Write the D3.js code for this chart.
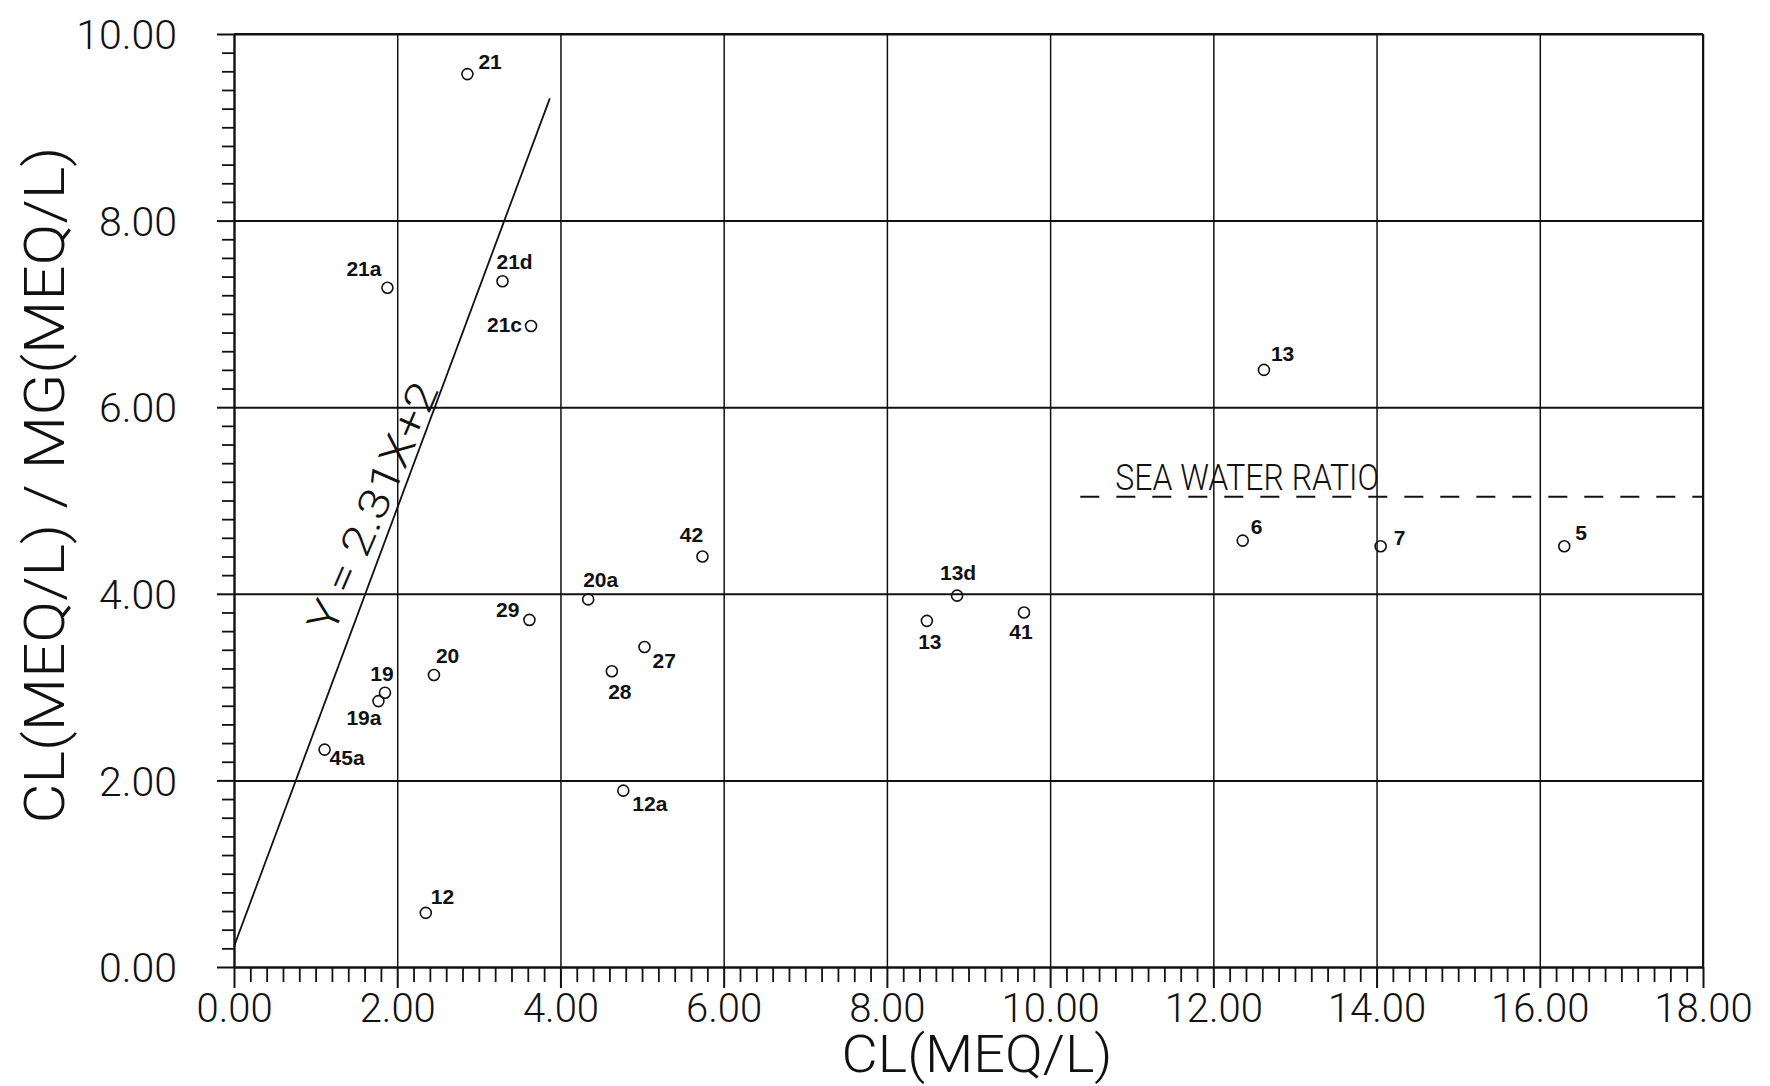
<!DOCTYPE html>
<html>
<head>
<meta charset="utf-8">
<script src="https://cdn.jsdelivr.net/npm/d3@7/dist/d3.min.js"></script>
<style>
  html, body { margin: 0; padding: 0; background: #fff; }
  svg { display: block; }
</style>
</head>
<body>
<svg id="chart" width="1770" height="1086"></svg>
<script>
// ---------- DATA ----------
const sampleIds = ["21", "21a", "21d", "21c", "13", "6", "7", "5", "42", "20a", "13d", "41", "13", "29", "27", "28", "20", "19", "19a", "45a", "12a", "12"];
const clValues  = [2.86, 1.88, 3.29, 3.64, 12.62, 12.36, 14.05, 16.30, 5.74, 4.34, 8.86, 9.68, 8.49, 3.62, 5.03, 4.63, 2.45, 1.85, 1.77, 1.11, 4.77, 2.35];
const ratioValues = [9.57, 7.28, 7.35, 6.87, 6.40, 4.57, 4.51, 4.51, 4.40, 3.94, 3.98, 3.80, 3.71, 3.72, 3.43, 3.17, 3.13, 2.94, 2.85, 2.33, 1.89, 0.58];

const fitLineX = [0.00, 3.87];
const fitLineY = [0.22, 9.31];
const fitLabel = "Y = 2.31X+2";
const fitLabelAnchor = [1.70, 4.93];

const seaWaterX = [10.37, 18.00];
const seaWaterY = [5.04, 5.04];
const seaWaterLabel = "SEA WATER RATIO";

const xMajorTicks = [0, 2, 4, 6, 8, 10, 12, 14, 16, 18];
const yMajorTicks = [0, 2, 4, 6, 8, 10];
const xTitle = "CL(MEQ/L)";
const yTitle = "CL(MEQ/L)  /  MG(MEQ/L)";

// label placement (pixel offsets from the circle, text anchor)
const labelPlacement = [
  [11, -5, "start"], [-6, -12, "end"], [-6, -12, "start"], [-9, 6, "end"],
  [7, -9, "start"], [8, -7, "start"], [13, -1, "start"], [11, -6, "start"],
  [-11, -14, "middle"], [-5, -12, "start"], [1, -16, "middle"], [-3, 27, "middle"],
  [3, 28, "middle"], [-10, -3, "end"], [8, 21, "start"], [8, 28, "middle"],
  [2, -12, "start"], [-3, -12, "middle"], [3, 24, "end"], [5, 15, "start"],
  [9, 20, "start"], [5, -9, "start"]
];

// ---------- LAYOUT ----------
const svg = d3.select("#chart");
svg.append("rect").attr("width", 1770).attr("height", 1086).attr("fill", "#fff");

const mLeft = 234, mRight = 1703, mTop = 34, mBottom = 967;
const x = d3.scaleLinear().domain([0, 18]).range([mLeft, mRight]);
const y = d3.scaleLinear().domain([0, 10]).range([mBottom, mTop]);

const thinFont = "Roboto, 'DejaVu Sans', sans-serif";
const ink = "#111";

const xMinor = d3.range(0, 18.001, 0.2).map(v => +v.toFixed(1)).filter(v => Math.abs(v / 2 - Math.round(v / 2)) > 1e-6);
const yMinor = d3.range(0, 10.001, 0.2).map(v => +v.toFixed(1)).filter(v => Math.abs(v / 2 - Math.round(v / 2)) > 1e-6);

// vertical gridlines
const gx = svg.append("g").attr("transform", `translate(0,${mBottom})`)
  .call(d3.axisBottom(x).tickValues(xMajorTicks.slice(1)).tickSize(-(mBottom - mTop)).tickFormat(""));
gx.select(".domain").remove();
gx.selectAll("line").attr("stroke", ink).attr("stroke-width", 1.5);

// horizontal gridlines
const gy = svg.append("g").attr("transform", `translate(${mLeft},0)`)
  .call(d3.axisLeft(y).tickValues(yMajorTicks.slice(1)).tickSize(-(mRight - mLeft)).tickFormat(""));
gy.select(".domain").remove();
gy.selectAll("line").attr("stroke", ink).attr("stroke-width", 2);

// minor ticks
const mx = svg.append("g").attr("transform", `translate(0,${mBottom})`)
  .call(d3.axisBottom(x).tickValues(xMinor).tickSize(15).tickFormat(""));
mx.select(".domain").remove();
mx.selectAll("line").attr("stroke", ink).attr("stroke-width", 1.8);

const my = svg.append("g").attr("transform", `translate(${mLeft},0)`)
  .call(d3.axisLeft(y).tickValues(yMinor).tickSize(12).tickFormat(""));
my.select(".domain").remove();
my.selectAll("line").attr("stroke", ink).attr("stroke-width", 1.8);

// major ticks + labels
const ax = svg.append("g").attr("transform", `translate(0,${mBottom})`)
  .call(d3.axisBottom(x).tickValues(xMajorTicks).tickSizeInner(21).tickSizeOuter(0).tickPadding(10).tickFormat(d3.format(".2f")));
ax.select(".domain").attr("stroke", ink).attr("stroke-width", 2.4);
ax.selectAll("line").attr("stroke", ink).attr("stroke-width", 2);
ax.selectAll("text").attr("font-family", thinFont).attr("font-weight", 300)
  .attr("font-size", 40).attr("fill", ink).attr("dy", "0.71em").attr("y", 27);

const ay = svg.append("g").attr("transform", `translate(${mLeft},0)`)
  .call(d3.axisLeft(y).tickValues(yMajorTicks).tickSizeInner(17).tickSizeOuter(0).tickPadding(10).tickFormat(d3.format(".2f")));
ay.select(".domain").attr("stroke", ink).attr("stroke-width", 2.4);
ay.selectAll("line").attr("stroke", ink).attr("stroke-width", 2);
ay.selectAll("text").attr("font-family", thinFont).attr("font-weight", 300)
  .attr("font-size", 41).attr("fill", ink).attr("x", -57).attr("dy", "0.36em");

// frame top / right
svg.append("line").attr("x1", x(0)).attr("x2", x(18)).attr("y1", y(10)).attr("y2", y(10))
  .attr("stroke", ink).attr("stroke-width", 2.2);
svg.append("line").attr("x1", x(18)).attr("x2", x(18)).attr("y1", y(0)).attr("y2", y(10))
  .attr("stroke", ink).attr("stroke-width", 2);

// axis titles
svg.append("text").attr("x", 977).attr("y", 1072).attr("text-anchor", "middle")
  .attr("font-family", thinFont).attr("font-weight", 300).attr("font-size", 52).attr("fill", ink)
  .attr("textLength", 271).attr("lengthAdjust", "spacingAndGlyphs").text(xTitle);

svg.append("text").attr("transform", "translate(64,485) rotate(-90)").attr("text-anchor", "middle")
  .attr("font-family", thinFont).attr("font-weight", 300).attr("font-size", 56).attr("fill", ink)
  .attr("textLength", 677).attr("lengthAdjust", "spacingAndGlyphs").text(yTitle);

// fitted line
const fitPts = fitLineX.map((v, i) => [v, fitLineY[i]]);
svg.append("path").datum(fitPts)
  .attr("d", d3.line().x(d => x(d[0])).y(d => y(d[1])))
  .attr("fill", "none").attr("stroke", ink).attr("stroke-width", 1.8);

const px0 = x(fitLineX[0]), py0 = y(fitLineY[0]), px1 = x(fitLineX[1]), py1 = y(fitLineY[1]);
const ang = Math.atan2(py1 - py0, px1 - px0) * 180 / Math.PI + 3;
svg.append("text")
  .attr("transform", `translate(${x(fitLabelAnchor[0])},${y(fitLabelAnchor[1])}) rotate(${ang})`)
  .attr("text-anchor", "middle").attr("dy", "0.35em")
  .attr("font-family", thinFont).attr("font-weight", 300).attr("font-size", 42).attr("fill", ink)
  .attr("textLength", 268).attr("lengthAdjust", "spacingAndGlyphs").text(fitLabel);

// sea water ratio line
const seaPts = seaWaterX.map((v, i) => [v, seaWaterY[i]]);
svg.append("path").datum(seaPts)
  .attr("d", d3.line().x(d => x(d[0])).y(d => y(d[1])))
  .attr("fill", "none").attr("stroke", ink).attr("stroke-width", 1.8).attr("stroke-dasharray", "19,17");
svg.append("text").attr("x", x(seaWaterX[0]) + 35).attr("y", y(seaWaterY[0]) - 7)
  .attr("font-family", thinFont).attr("font-weight", 300).attr("font-size", 37).attr("fill", ink)
  .attr("textLength", 264).attr("lengthAdjust", "spacingAndGlyphs").text(seaWaterLabel);

// points
const pts = sampleIds.map((id, i) => ({ id, cx: clValues[i], cy: ratioValues[i], p: labelPlacement[i] }));
const g = svg.append("g");
g.selectAll("circle").data(pts).enter().append("circle")
  .attr("cx", d => x(d.cx)).attr("cy", d => y(d.cy)).attr("r", 5.5)
  .attr("fill", "none").attr("stroke", ink).attr("stroke-width", 1.6);
g.selectAll("text").data(pts).enter().append("text")
  .attr("x", d => x(d.cx) + d.p[0]).attr("y", d => y(d.cy) + d.p[1])
  .attr("text-anchor", d => d.p[2])
  .attr("font-family", "'Liberation Sans', Arial, sans-serif").attr("font-weight", "bold")
  .attr("font-size", 21).attr("fill", ink).text(d => d.id);
</script>
</body>
</html>
